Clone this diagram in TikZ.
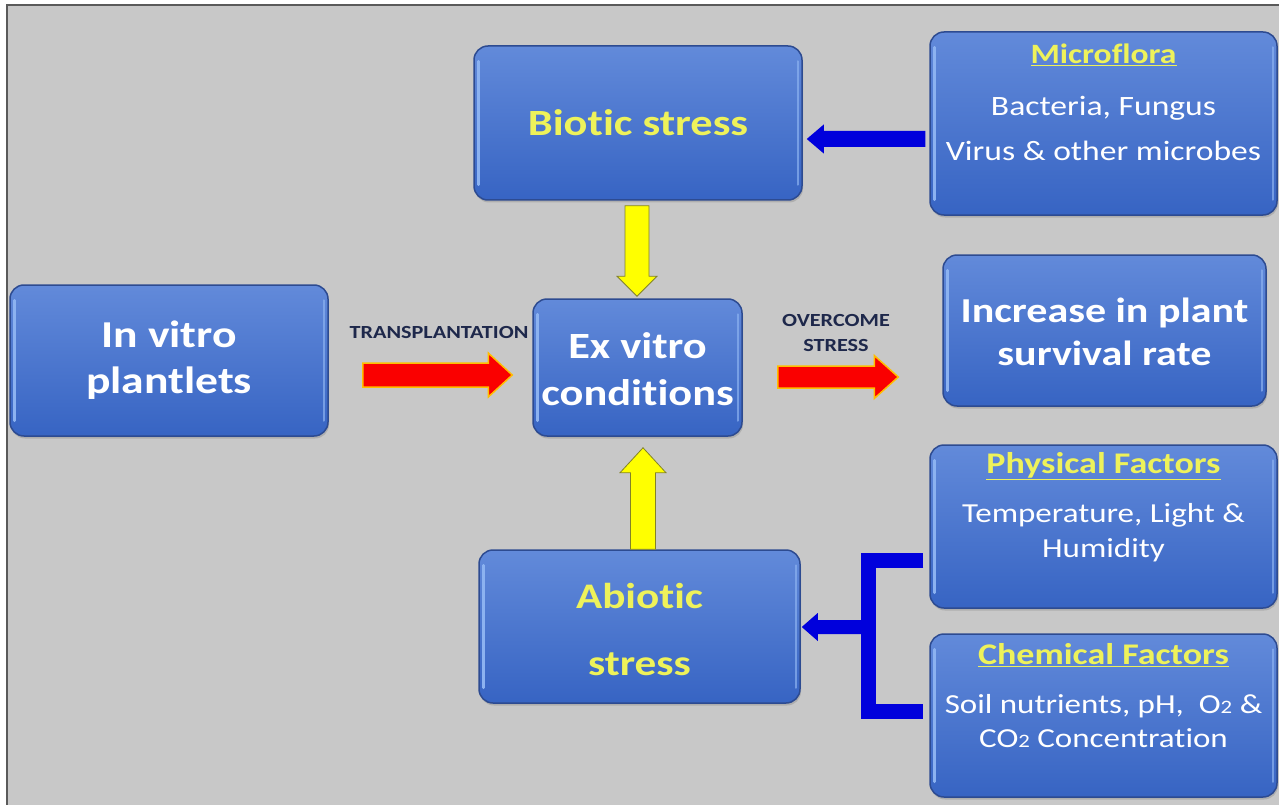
\documentclass[tikz,border=0pt]{standalone}
\usepackage{fontspec}
\setmainfont{Carlito}[FakeStretch=1.2, RawFeature={-liga}]
\usetikzlibrary{calc,shadows}
\definecolor{bggray}{RGB}{200,200,200}
\definecolor{framegray}{RGB}{90,90,90}
\definecolor{boxtop}{RGB}{98,138,218}
\definecolor{boxbot}{RGB}{55,100,195}
\definecolor{boxedge}{RGB}{45,75,145}
\definecolor{hilite}{RGB}{140,178,240}
\definecolor{ytext}{RGB}{238,242,90}
\definecolor{navy}{RGB}{30,40,75}
\definecolor{arrred}{RGB}{250,0,0}
\definecolor{arrorange}{RGB}{255,190,0}
\definecolor{arrblue}{RGB}{0,0,220}
\definecolor{arryellow}{RGB}{255,255,0}
\definecolor{arryedge}{RGB}{130,130,40}
\newcommand\fsz[2]{\fontsize{#1}{#2}\selectfont}
\tikzset{
  box/.style={rounded corners=14pt, draw=boxedge, line width=1.5pt,
    top color=boxtop, bottom color=boxbot, inner sep=0pt,
    drop shadow={shadow xshift=1pt, shadow yshift=-2.5pt, opacity=0.35}},
  txt/.style={align=center, inner sep=0pt},
  blockarrow/.style n args={3}{to path={
    ($(\tikztostart)!#1!90:(\tikztotarget)$)
    -- ($($(\tikztotarget)!#3!(\tikztostart)$)!#1!-90:(\tikztostart)$)
    -- ($($(\tikztotarget)!#3!(\tikztostart)$)!#2!-90:(\tikztostart)$)
    -- (\tikztotarget)
    -- ($($(\tikztotarget)!#3!(\tikztostart)$)!#2!90:(\tikztostart)$)
    -- ($($(\tikztotarget)!#3!(\tikztostart)$)!#1!90:(\tikztostart)$)
    -- ($(\tikztostart)!#1!-90:(\tikztotarget)$) -- cycle}},
  redarrow/.style={fill=arrred, draw=arrorange, line width=1.5pt, line join=miter},
  bluearrow/.style={fill=arrblue, draw=none},
  yelarrow/.style={fill=arryellow, draw=arryedge, line width=0.8pt},
  bluebar/.style={draw=arrblue, line width=15pt, line join=miter},
}
\begin{document}
\begin{tikzpicture}[x=1pt,y=-1pt]
\useasboundingbox (0,0) rectangle (1279,805);
\fill[white] (0,0) rectangle (1279,805);
\fill[bggray] (7,5) rectangle (1279,805);
\draw[framegray, line width=1.2pt] (7,805) -- (7,5) -- (1279,5);

% boxes
\node[box, minimum width=318, minimum height=151] (invitro) at (169,360.5) {};
\node[box, minimum width=328, minimum height=154] (biotic) at (638,123) {};
\node[box, minimum width=347, minimum height=183] (micro) at (1103.5,123.5) {};
\node[box, minimum width=209, minimum height=137] (exvitro) at (637.5,367.5) {};
\node[box, minimum width=323, minimum height=151] (increase) at (1104.5,330.5) {};
\node[box, minimum width=321, minimum height=153] (abiotic) at (639.5,626.5) {};
\node[box, minimum width=347, minimum height=163] (phys) at (1103.5,526.5) {};
\node[box, minimum width=347, minimum height=163] (chem) at (1103.5,715.5) {};

\foreach \n in {invitro,biotic,micro,exvitro,increase,abiotic,phys,chem}{
  \draw[hilite, line width=2.5pt, line cap=round] ($(\n.north west)+(5,16)$) -- ($(\n.south west)+(5,-16)$);
  \draw[hilite, line width=2pt, line cap=round, opacity=0.7] ($(\n.north east)+(-5,16)$) -- ($(\n.south east)+(-5,-16)$);
}

% texts
\node[txt, text=white, font=\bfseries\fsz{38}{46}] (invitroT) at (invitro.center) {In vitro\\plantlets};
\node[txt, text=ytext, font=\bfseries\fsz{37}{44}] (bioticT) at (biotic.center) {Biotic stress};
\node[txt, text=ytext, font=\bfseries\fsz{28}{34}] (microH) at (1103.5,55) {\underline{Microflora}};
\node[txt, text=white, font=\fsz{28}{45}] (microB) at (1103.5,128) {Bacteria, Fungus\\Virus \& other microbes};
\node[txt, text=white, font=\bfseries\fsz{37}{47}] (exvitroT) at (637.5,369) {Ex vitro\\conditions};
\node[txt, text=white, font=\bfseries\fsz{35}{43}] (increaseT) at (1104.5,332) {Increase in plant\\survival rate};
\node[txt, text=ytext, font=\bfseries\fsz{36}{67}] (abioticT) at (639.5,629) {Abiotic\\stress};
\node[txt, text=ytext, font=\bfseries\fsz{30}{36}] (physH) at (1103.5,466) {\underline{Physical Factors}};
\node[txt, text=white, font=\fsz{27.5}{35}] (physB) at (1103.5,533) {Temperature, Light \&\\Humidity};
\node[txt, text=ytext, font=\bfseries\fsz{30}{36}] (chemH) at (1103.5,655) {\underline{Chemical Factors}};
\node[txt, text=white, font=\fsz{27.5}{34}] (chemB) at (1103.5,721) {Soil nutrients, pH,\ \ O{\fsz{19}{20}2} \&\\CO{\fsz{19}{20}2} Concentration};
\node[txt, text=navy, font=\bfseries\fsz{18.5}{22}] (transl) at (439,332) {TRANSPLANTATION};
\node[txt, text=navy, font=\bfseries\fsz{18.5}{25}] (overl) at (836,333) {OVERCOME\\STRESS};

% arrow end points
\coordinate (t1s) at ($(invitro.east)+(34,14.5)$);
\coordinate (t1e) at ($(exvitro.west)+(-20,7.5)$);
\coordinate (t2s) at ($(exvitro.east)+(35,9.5)$);
\coordinate (t2e) at ($(increase.west)+(-44,46.5)$);
\coordinate (m1s) at ($(micro.west)+(-4,15.5)$);
\coordinate (m1e) at ($(biotic.east)+(4,16)$);
\coordinate (y1s) at ($(biotic.south)+(-1,5)$);
\coordinate (y1e) at ($(exvitro.north)+(-0.5,-2)$);
\coordinate (y2s) at ($(abiotic.north)+(3.5,0)$);
\coordinate (y2e) at ($(exvitro.south)+(5.5,11)$);
\coordinate (b1) at ($(phys.west)+(-6,33.5)$);
\coordinate (b2) at ($(chem.west)+(-6,-4)$);
\coordinate (bm) at (868,627);
\coordinate (a1e) at ($(abiotic.east)+(1,0.5)$);

% arrows
\draw[redarrow, blockarrow={12pt}{22pt}{24pt}] (t1s) to (t1e);
\draw[redarrow, blockarrow={11pt}{21.5pt}{24pt}] (t2s) to (t2e);
\fill[bluearrow, blockarrow={8pt}{14.5pt}{17pt}] (m1s) to (m1e);
\draw[yelarrow, blockarrow={12pt}{20pt}{20pt}] (y1s) to (y1e);
\draw[yelarrow, blockarrow={12.5pt}{23pt}{25pt}] (y2s) to (y2e);
\draw[bluebar] (b1) -| (bm) |- (b2);
\fill[bluearrow, blockarrow={7pt}{14pt}{16pt}] ($(bm)+(7.5,0)$) to (a1e);
\end{tikzpicture}
\end{document}
